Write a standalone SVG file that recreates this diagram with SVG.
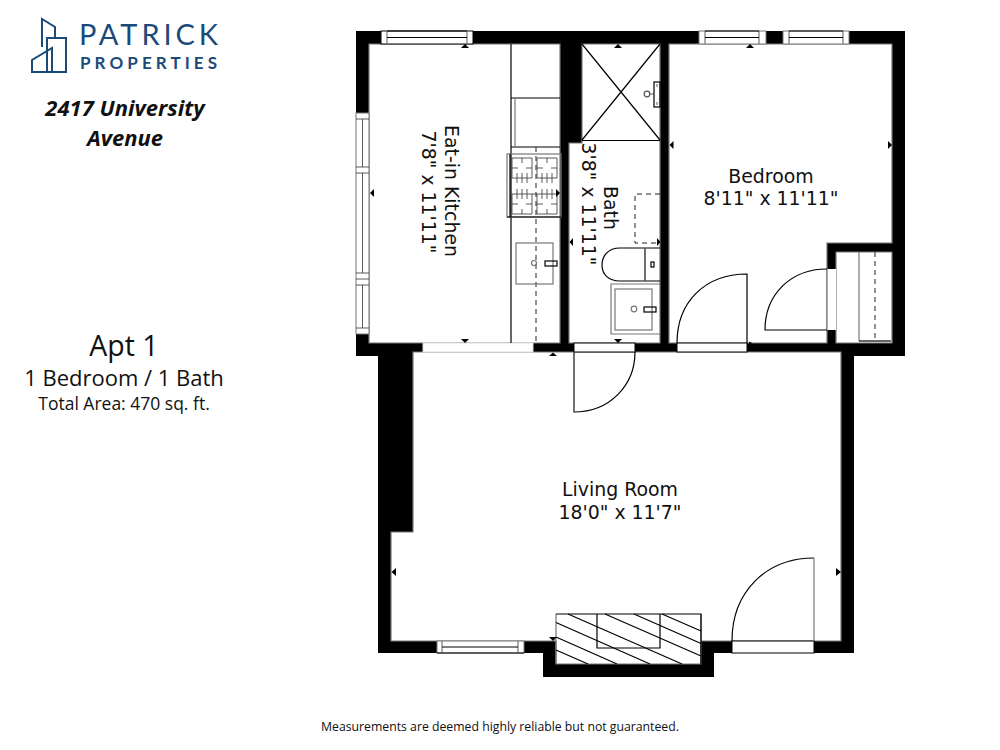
<svg xmlns="http://www.w3.org/2000/svg" width="1000" height="750" viewBox="0 0 1000 750">
<style>
.l{fill:none;stroke:#000;stroke-width:1.2}
.t{fill:none;stroke:#333;stroke-width:.8}
.g{fill:none;stroke:#777;stroke-width:1.2}
.d{fill:none;stroke:#222;stroke-width:1;stroke-dasharray:5 4}
.w{fill:#fff;stroke:#000;stroke-width:1}
.wg{fill:#fff;stroke:#777;stroke-width:1}
.o{fill:#fff;stroke:none}
.dim{font-family:"DejaVu Sans",sans-serif;font-size:18.9px;fill:#111;text-anchor:middle}
.info{font-family:"Open Sans","Noto Sans",sans-serif;fill:#111;text-anchor:middle}
.addr{font-family:"Open Sans","Noto Sans",sans-serif;font-size:22px;font-weight:700;font-style:italic;fill:#111;text-anchor:middle}
.logo{font-family:"Lato","Open Sans",sans-serif;fill:#1c4a78}
.tri{fill:#000}
</style>
<rect width="1000" height="750" fill="#fff"/>
<g id="logo" fill="none" stroke="#1c4a78" stroke-width="2">
<path d="M42 47V19L55 27V38M47 72V38H66V72H32V60L52 48V72"/>
</g>
<text class="logo" x="79" y="45" font-size="29" textLength="139" lengthAdjust="spacing">PATRICK</text>
<text class="logo" x="80" y="69" font-size="17" font-weight="700" textLength="137" lengthAdjust="spacing">PROPERTIES</text>
<text class="addr" x="125" y="116">2417 University</text>
<text class="addr" x="125" y="146">Avenue</text>
<text class="info" x="124" y="356" font-size="28.500">Apt 1</text>
<text class="info" x="124" y="386" font-size="22">1 Bedroom / 1 Bath</text>
<text class="info" x="124" y="410" font-size="17.500">Total Area: 470 sq. ft.</text>
<text class="info" x="500" y="731" font-size="12.250">Measurements are deemed highly reliable but not guaranteed.</text>

<g id="walls">
<path fill="#000" fill-rule="evenodd" d="M356 31H905V356H854V653H714V677H543V653H378V356H356Z
M369 44H560V343H369Z
M582 44H660V343H569V143H582Z
M669 44H892V243H827V343H669Z
M836 252H892V343H836Z
M413 352H841V641H701V664H556V641H391V532H413Z"/>
<path class="g" d="M369 44H560V343H369ZM582 44H660V343H569V143H582ZM669 44H892V243H827V343H669ZM836 252H892V343H836ZM413 352H841V641H701V664H556V641H391V532H413Z"/>
</g>

<g id="windows">
<rect class="w" x="381" y="31" width="92" height="13" stroke="#777"/>
<path class="g" d="M387 31V44M467 31V44"/><path class="l" d="M387 31H467M387 37.500H467" stroke-width="1"/>
<rect class="wg" x="356" y="113" width="13" height="221"/>
<path class="t" d="M362.500 119V167M362.500 173V273M362.500 285V328M356 119H369M356 167H369M356 173H369M356 273H369M356 279H369M356 285H369M356 328H369"/>
<rect class="wg" x="699" y="31" width="67" height="13"/>
<path class="g" d="M705 31V44M759 31V44"/><path class="l" d="M705 31H759M705 37.500H759"/>
<rect class="wg" x="783" y="31" width="66" height="13"/>
<path class="g" d="M789 31V44M843 31V44"/><path class="l" d="M789 31H843M789 37.500H843"/>
<rect class="wg" x="437" y="641" width="87" height="12"/>
<path class="g" d="M442 641V653M518 641V653"/><path class="l" d="M442 647H518M437 653H524"/>
</g>

<g id="openings">
<rect x="423" y="343" width="110" height="9" fill="#fff" stroke="#ddd" stroke-width="1"/>
<rect class="w" x="574" y="343" width="61" height="9"/>
<rect class="w" x="677" y="343" width="70" height="9"/>
<rect class="w" x="732" y="641" width="82" height="12"/>
<rect class="o" x="827" y="269" width="9" height="61"/>
<path class="g" d="M827 269V330" stroke-width="1.500"/>
</g>

<g id="doors">
<path class="l" d="M574 352V412C610 412 635 385 635 352"/>
<path class="g" d="M574 352V412"/>
<path class="l" d="M747 343V274C705 274 677 302 677 343"/>
<path class="l" d="M827 330H765C765 295 790 269 827 269"/>
<path class="l" d="M732 641C732 592 766 558 814 558"/>
<path class="g" d="M814 558V641"/>
</g>

<g id="kitchen">
<path class="l" d="M511 44V343"/>
<path class="l" d="M511 98H560M511 147H560"/>
<path class="g" d="M515 98V147"/>
<path class="d" d="M536 147V343"/>
<rect class="g" x="507" y="154" width="54" height="63"/>
<path class="l" d="M510 154V217M507 217H561"/>
<path class="t" d="M512 158H532V178H512ZM537 158H557V178H537ZM512 194H532V214H512ZM537 194H557V214H537Z"/>
<path class="t" d="M512 168H518M526 168H532M537 168H543M551 168H557M522 158V163M547 158V163M512 204H518M526 204H532M537 204H543M551 204H557M522 209V214M547 209V214M517 173V183M522 173V183M527 173V183M542 173V183M547 173V183M552 173V183M517 189V199M522 189V199M527 189V199M542 189V199M547 189V199M552 189V199M532 194H537"/>
<rect class="g" x="516" y="243" width="37" height="41"/>
<circle class="g" cx="534" cy="263" r="2.500"/>
<rect class="l" x="545" y="261" width="12" height="5" stroke-width="1"/>
</g>

<g id="bath">
<path class="l" d="M582 44L660 140M660 44L582 140M582 140.500H660"/>
<rect class="l" x="654" y="82" width="6" height="25" stroke-width="1"/>
<path class="t" d="M654 94H647M657 84V87M657 102V105"/>
<circle cx="647" cy="94" r="2.800" fill="#fff" stroke="#555" stroke-width="1.200"/>
<path class="d" d="M660 194H635V243H660"/>
<path class="l" d="M645 248H620C608 248 602 256 602 265C602 274 608 281 620 281H645M660 248H645V281H660"/>
<path class="g" d="M645 248V281"/>
<rect class="l" x="651" y="262" width="3" height="5" stroke-width="1"/>
<path class="g" d="M660 284H611V334H660"/>
<rect class="g" x="615" y="289" width="37" height="41"/>
<circle class="g" cx="634" cy="309" r="2.800"/>
<rect class="l" x="644" y="307" width="12" height="5" stroke-width="1"/>
</g>

<g id="closet">
<path class="g" d="M859 252V341"/>
<path class="l" d="M859 341H891"/>
<path class="d" d="M875 252V340"/>
</g>

<g id="fireplace">
<path class="g" d="M556 614V664M701 614V664"/>
<path class="l" d="M556 614H701V664M597 614V648H660V614"/>
<path class="l" d="M662 614L701 631M634 614L701 643.500M605 614L701 656M568 614L682 664M556 622.500L650 664M556 637L617 664M556 650L588 664"/>
</g>

<g id="dimension-markers">
<path class="tri" d="M461 48L465 44L469 48ZM461 339L465 343L469 339ZM374 189L370 193L374 197ZM556 189L560 193L556 197ZM614 48L618 44L622 48ZM614 339L618 343L622 339ZM573 238L569.500 242L573 246ZM657 238L660.500 242L657 246ZM746 48L750 44L754 48ZM673.500 141L669.500 145L673.500 149ZM888 141L892 145L888 149ZM749 341.500L753 343.500L749 344ZM549 356L553 352.500L557 356ZM396 568L391.500 572L396 576ZM836 568L841 572L836 576ZM549 637L553 641L557 637Z"/>
</g>

<g id="room-labels">
<text class="dim" x="771" y="183">Bedroom</text>
<text class="dim" x="771" y="205">8'11" x 11'11"</text>
<text class="dim" x="620" y="496">Living Room</text>
<text class="dim" x="620" y="519">18'0" x 11'7"</text>
<text class="dim" transform="translate(445 191) rotate(90)">Eat-in Kitchen</text>
<text class="dim" transform="translate(422 192) rotate(90)">7'8" x 11'11"</text>
<text class="dim" transform="translate(604 208) rotate(90)">Bath</text>
<text class="dim" transform="translate(582 204) rotate(90)">3'8" x 11'11"</text>
</g>
</svg>
